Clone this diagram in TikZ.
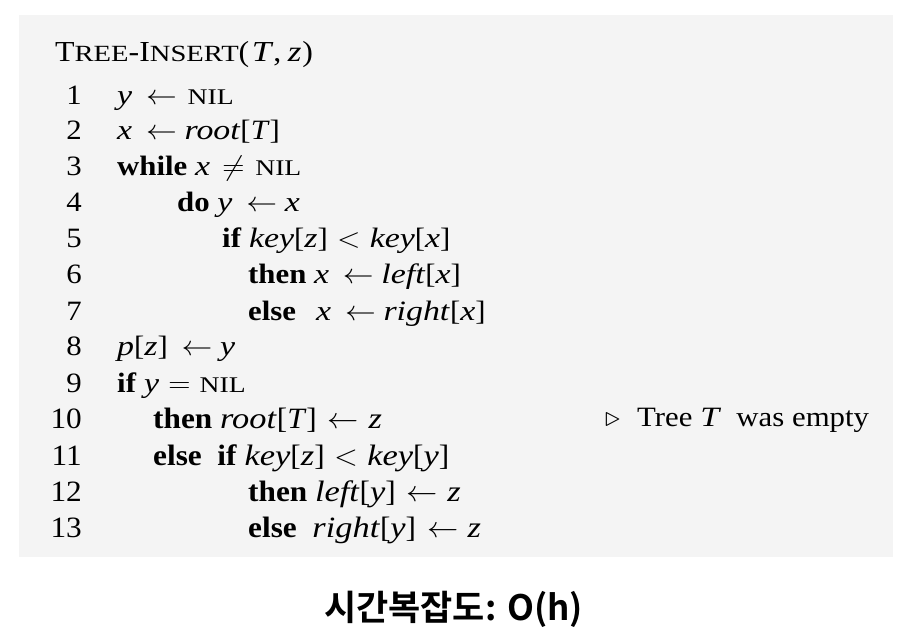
\RequirePackage{fix-cm}
\documentclass[tikz,border=0pt]{standalone}
\usepackage{fontspec}
\setmainfont{Liberation Serif}
\newfontfamily\krfont{Noto Sans CJK KR}[BoldFont={* Bold}]
\definecolor{boxgray}{RGB}{244,244,244}
\newcommand\upfont{\fontsize{28}{32}\selectfont}
\newcommand\lofont{\fontsize{29.5}{34}\selectfont}
\newcommand\smc[1]{\scalebox{1.12}[1]{\fontsize{0.8em}{1em}\selectfont #1}}
\newcommand\kw[1]{\textbf{#1}}
\newcommand\va[1]{\scalebox{1.1}[1]{\textit{#1}}}
\newcommand\ga{\hspace{0.45em}$\leftarrow$\hspace{0.25em}}
\newcommand\gl{\hspace{0.35em}$\leftarrow$\hspace{0.3em}}
\newcommand\rel[1]{\hspace{0.3em}$#1$\hspace{0.3em}}
\newcommand\UP[1]{\scalebox{1.1}[1]{\upfont #1}}
\newcommand\LO[1]{\scalebox{1.06}[1]{\lofont #1}}
\tikzset{
  lnum/.style={anchor=base east, inner sep=0pt},
  code/.style={anchor=base west, inner sep=0pt},
}
\begin{document}
\begin{tikzpicture}[x=1pt,y=-1pt]
\useasboundingbox (0,0) rectangle (913,637);
\fill[white] (0,0) rectangle (913,637);
\fill[boxgray] (19,15) rectangle (893,557);
\node[code] (title) at (55,61) {\scalebox{1.1}[1]{\fontsize{29}{32}\selectfont T\smc{REE}-I\smc{NSERT}(\hspace{0.08em}\va{T},\hspace{0.2em}\va{z}\hspace{0.03em})}};
% line numbers
\foreach \n/\y in {1/104,2/139,3/175,4/211,5/247,6/283,7/320,8/355,9/392}
  \node[lnum] (n\n) at (82,\y) {\UP{\n}};
\foreach \n/\y in {10/428,11/465,12/501,13/537}
  \node[lnum] (n\n) at (82,\y) {\LO{\n}};
\node[code] (l1) at (117,104) {\UP{\va{y}\ga\hspace{0.1em}\smc{NIL}}};
\node[code] (l2) at (117,139) {\UP{\va{x}\ga\va{root}[\textit{T}]}};
\node[code] (l3) at (117,175) {\UP{\kw{while} \va{x}\hspace{0.1em}\rel{\neq}\hspace{0.05em}\smc{NIL}}};
\node[code] (l4) at (177,211) {\UP{\kw{do} \va{y}\ga\va{x}}};
\node[code] (l5) at (222,247) {\UP{\kw{if} \va{key}[\va{z}]\rel{<}\va{key}[\va{x}]}};
\node[code] (l6) at (248,283) {\UP{\kw{then} \va{x}\ga\va{left}[\va{x}]}};
\node[code] (l7) at (248,320) {\UP{\kw{else}\hspace{0.65em}\va{x}\ga\va{right}[\va{x}]}};
\node[code] (l8) at (117,355) {\UP{\va{p}[\va{z}]\ga\va{y}}};
\node[code] (l9) at (117,392) {\UP{\kw{if} \va{y}\rel{=}\smc{NIL}}};
\node[code] (l10) at (153,428) {\LO{\kw{then} \va{root}[\textit{T}]\gl\va{z}}};
\node[code] (l11) at (153,465) {\LO{\kw{else}\ \ \kw{if} \va{key}[\va{z}]\rel{<}\va{key}[\va{y}]}};
\node[code] (l12) at (248,501) {\LO{\kw{then} \va{left}[\va{y}]\gl\va{z}}};
\node[code] (l13) at (248,537) {\LO{\kw{else}\ \ \va{right}[\va{y}]\gl\va{z}}};
\node[code] (cmt) at (605,426) {\UP{$\triangleright$\hspace{0.3em} Tree \va{T}\ \ was empty}};
\node[anchor=base, inner sep=0pt, font=\krfont\bfseries\fontsize{35}{35}\selectfont] (cx) at (453.5,620) {시간복잡도: O(h)};
\end{tikzpicture}
\end{document}
